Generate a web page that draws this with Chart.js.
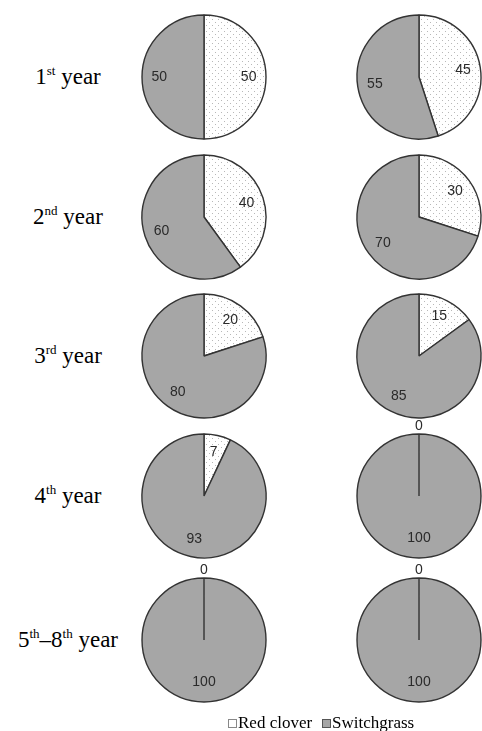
<!DOCTYPE html>
<html>
<head>
<meta charset="utf-8">
<script src="https://cdn.jsdelivr.net/npm/chart.js@4.4.1/dist/chart.umd.min.js"></script>
<style>
  html, body { margin: 0; padding: 0; background: #fff; }
  #wrap { position: relative; width: 482px; height: 731px; overflow: hidden; }
  canvas.pie { position: absolute; }
  .rowlabel { position: absolute; width: 140px; text-align: center; font-family: "Liberation Serif", "Times New Roman", serif; font-size: 23px; color: #000; line-height: 1; white-space: nowrap; }
  .rowlabel sup { font-size: 13px; vertical-align: 0; position: relative; top: -9px; }
  #legend { position: absolute; left: 0; width: 482px; top: 714px; height: 18px; font-family: "Liberation Serif", "Times New Roman", serif; font-size: 17px; color: #000; white-space: nowrap; line-height: 1; }
  .lg { position: absolute; top: 0; }
  .box { display: inline-block; width: 9px; height: 9px; margin-right: 1px; vertical-align: 0px; box-sizing: border-box; }
</style>
</head>
<body>
<div id="wrap"></div>
<script>
// ---- data ----
const rowLabels = ['1<sup>st</sup> year', '2<sup>nd</sup> year', '3<sup>rd</sup> year', '4<sup>th</sup> year', '5<sup>th</sup>–8<sup>th</sup> year'];
const seriesNames = ['Red clover', 'Switchgrass'];
const redCloverLeft = [50, 40, 20, 7, 0];
const switchgrassLeft = [50, 60, 80, 93, 100];
const redCloverRight = [45, 30, 15, 0, 0];
const switchgrassRight = [55, 70, 85, 100, 100];

// ---- layout / style ----
const rowCenters = [77, 217, 356, 496, 640];
const colCenters = [203.5, 419];
const R = 62;
const CANVAS = 160;
const grayFill = '#a6a6a6';
const borderCol = '#333333';

function makeDots() {
  const c = document.createElement('canvas');
  c.width = 6; c.height = 6;
  const g = c.getContext('2d');
  g.fillStyle = '#ffffff';
  g.fillRect(0, 0, 6, 6);
  g.fillStyle = '#b8b8b8';
  g.fillRect(1, 1, 1, 1);
  g.fillRect(4, 4, 1, 1);
  return g.createPattern(c, 'repeat');
}

const labelPlugin = {
  id: 'sliceLabels',
  afterDatasetsDraw(chart) {
    const ctx = chart.ctx;
    const meta = chart.getDatasetMeta(0);
    const data = chart.data.datasets[0].data;
    ctx.save();
    ctx.font = '14px "Liberation Sans", Arial, sans-serif';
    ctx.fillStyle = '#2a2a2a';
    ctx.textAlign = 'center';
    ctx.textBaseline = 'middle';
    meta.data.forEach((arc, i) => {
      const p = arc.getProps(['x', 'y', 'startAngle', 'endAngle', 'outerRadius'], true);
      const v = data[i];
      if (v === 0) {
        ctx.fillText(String(v), p.x, p.y - p.outerRadius - 8);
      } else {
        const mid = (p.startAngle + p.endAngle) / 2;
        const d = p.outerRadius * (v === 100 ? 0.68 : 0.72);
        ctx.fillText(String(v), p.x + Math.cos(mid) * d, p.y + Math.sin(mid) * d);
      }
    });
    ctx.restore();
  }
};

const wrap = document.getElementById('wrap');
const dots = makeDots();

rowLabels.forEach((txt, r) => {
  const d = document.createElement('div');
  d.className = 'rowlabel';
  d.innerHTML = txt;
  d.style.left = '-2px';
  d.style.top = (rowCenters[r] - 12) + 'px';
  wrap.appendChild(d);
});

function addPie(cx, cy, red, sw) {
  const c = document.createElement('canvas');
  c.className = 'pie';
  c.width = CANVAS; c.height = CANVAS;
  c.style.left = (cx - CANVAS / 2) + 'px';
  c.style.top = (cy - CANVAS / 2) + 'px';
  wrap.appendChild(c);
  new Chart(c, {
    type: 'pie',
    data: {
      labels: seriesNames,
      datasets: [{
        data: [red, sw],
        backgroundColor: [dots, grayFill],
        borderColor: borderCol,
        borderWidth: 1.4,
        radius: R
      }]
    },
    options: {
      responsive: false,
      animation: false,
      events: [],
      plugins: { legend: { display: false }, tooltip: { enabled: false } }
    },
    plugins: [labelPlugin]
  });
}

for (let r = 0; r < rowCenters.length; r++) {
  addPie(colCenters[0], rowCenters[r], redCloverLeft[r], switchgrassLeft[r]);
  addPie(colCenters[1], rowCenters[r], redCloverRight[r], switchgrassRight[r]);
}

// legend
const lg = document.createElement('div');
lg.id = 'legend';
lg.innerHTML =
  '<span class="lg" style="left:228px"><span class="box" style="background:#fff;border:1px solid #888"></span>' + seriesNames[0] + '</span>' +
  '<span class="lg" style="left:322px"><span class="box" style="background:' + grayFill + ';border:1px solid #555"></span>' + seriesNames[1] + '</span>';
wrap.appendChild(lg);
</script>
</body>
</html>
